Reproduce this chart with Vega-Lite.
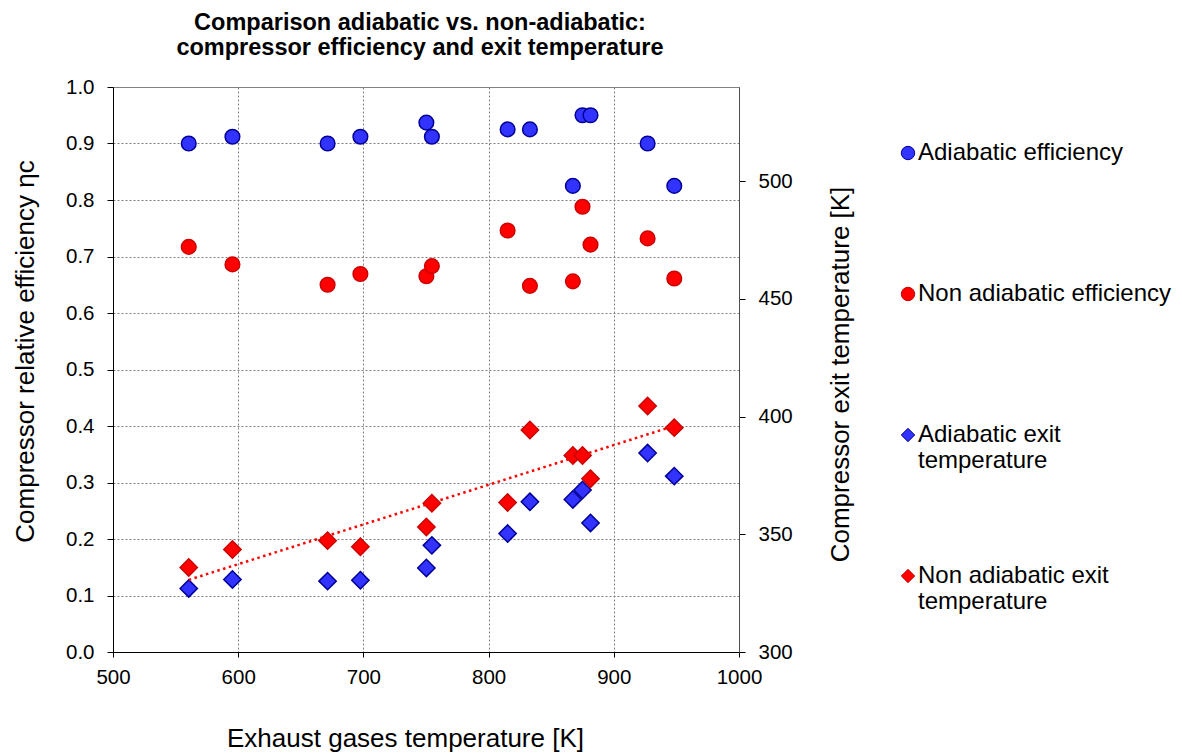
{
  "$schema": "https://vega.github.io/schema/vega-lite/v6.json",
  "width": 626,
  "height": 565,
  "autosize": {"type": "none"},
  "padding": {"left": 113, "top": 87, "right": 443, "bottom": 101},
  "background": "white",
  "config": {
    "font": "Liberation Sans",
    "view": {"stroke": "#808080", "strokeWidth": 1},
    "axis": {
      "labelColor": "black", "titleColor": "black", "labelFontSize": 20.5, "titleFontSize": 26,
      "titleFontWeight": "normal", "domainColor": "black", "tickColor": "black", "tickSize": 6,
      "gridColor": "#808080", "gridDash": [2, 2], "gridWidth": 1, "labelFlush": false
    },
    "legend": {
      "title": null, "orient": "none", "legendX": 783, "legendY": 54,
      "labelFontSize": 24, "labelColor": "black", "symbolSize": 180, "symbolStrokeWidth": 1,
      "rowPadding": 91, "gridAlign": "all", "labelOffset": -2, "labelLimit": 400
    }
  },
  "title": {
    "text": ["Comparison adiabatic vs. non-adiabatic:", "compressor efficiency and exit temperature"],
    "fontSize": 23.5, "fontWeight": "bold", "color": "black", "anchor": "middle", "dx": -6,
    "lineHeight": 25, "offset": 18
  },
  "data": {
    "values": [
      {"T": 560.5, "series": "Adiabatic efficiency", "value": 0.900},
      {"T": 595.4, "series": "Adiabatic efficiency", "value": 0.912},
      {"T": 671.4, "series": "Adiabatic efficiency", "value": 0.900},
      {"T": 697.6, "series": "Adiabatic efficiency", "value": 0.912},
      {"T": 750.3, "series": "Adiabatic efficiency", "value": 0.937},
      {"T": 754.7, "series": "Adiabatic efficiency", "value": 0.912},
      {"T": 815.2, "series": "Adiabatic efficiency", "value": 0.925},
      {"T": 833.0, "series": "Adiabatic efficiency", "value": 0.925},
      {"T": 867.3, "series": "Adiabatic efficiency", "value": 0.825},
      {"T": 875.0, "series": "Adiabatic efficiency", "value": 0.950},
      {"T": 881.4, "series": "Adiabatic efficiency", "value": 0.950},
      {"T": 927.0, "series": "Adiabatic efficiency", "value": 0.900},
      {"T": 948.3, "series": "Adiabatic efficiency", "value": 0.825},
      {"T": 560.5, "series": "Non adiabatic efficiency", "value": 0.717},
      {"T": 595.4, "series": "Non adiabatic efficiency", "value": 0.686},
      {"T": 671.4, "series": "Non adiabatic efficiency", "value": 0.650},
      {"T": 697.6, "series": "Non adiabatic efficiency", "value": 0.669},
      {"T": 750.3, "series": "Non adiabatic efficiency", "value": 0.665},
      {"T": 754.7, "series": "Non adiabatic efficiency", "value": 0.683},
      {"T": 815.2, "series": "Non adiabatic efficiency", "value": 0.746},
      {"T": 833.0, "series": "Non adiabatic efficiency", "value": 0.648},
      {"T": 867.3, "series": "Non adiabatic efficiency", "value": 0.656},
      {"T": 875.0, "series": "Non adiabatic efficiency", "value": 0.788},
      {"T": 881.4, "series": "Non adiabatic efficiency", "value": 0.721},
      {"T": 927.0, "series": "Non adiabatic efficiency", "value": 0.732},
      {"T": 948.3, "series": "Non adiabatic efficiency", "value": 0.661},
      {"T": 560.5, "series": "Adiabatic exit temperature", "value": 327.0},
      {"T": 595.4, "series": "Adiabatic exit temperature", "value": 330.8},
      {"T": 671.4, "series": "Adiabatic exit temperature", "value": 330.1},
      {"T": 697.6, "series": "Adiabatic exit temperature", "value": 330.5},
      {"T": 750.3, "series": "Adiabatic exit temperature", "value": 335.7},
      {"T": 754.7, "series": "Adiabatic exit temperature", "value": 345.3},
      {"T": 815.2, "series": "Adiabatic exit temperature", "value": 350.3},
      {"T": 833.0, "series": "Adiabatic exit temperature", "value": 363.8},
      {"T": 867.3, "series": "Adiabatic exit temperature", "value": 364.8},
      {"T": 875.0, "series": "Adiabatic exit temperature", "value": 368.8},
      {"T": 881.4, "series": "Adiabatic exit temperature", "value": 354.8},
      {"T": 927.0, "series": "Adiabatic exit temperature", "value": 384.5},
      {"T": 948.3, "series": "Adiabatic exit temperature", "value": 374.7},
      {"T": 560.5, "series": "Non adiabatic exit temperature", "value": 335.9},
      {"T": 595.4, "series": "Non adiabatic exit temperature", "value": 343.5},
      {"T": 671.4, "series": "Non adiabatic exit temperature", "value": 347.3},
      {"T": 697.6, "series": "Non adiabatic exit temperature", "value": 344.7},
      {"T": 750.3, "series": "Non adiabatic exit temperature", "value": 353.1},
      {"T": 754.7, "series": "Non adiabatic exit temperature", "value": 363.2},
      {"T": 815.2, "series": "Non adiabatic exit temperature", "value": 363.5},
      {"T": 833.0, "series": "Non adiabatic exit temperature", "value": 394.3},
      {"T": 867.3, "series": "Non adiabatic exit temperature", "value": 383.5},
      {"T": 875.0, "series": "Non adiabatic exit temperature", "value": 383.5},
      {"T": 881.4, "series": "Non adiabatic exit temperature", "value": 373.6},
      {"T": 927.0, "series": "Non adiabatic exit temperature", "value": 404.5},
      {"T": 948.3, "series": "Non adiabatic exit temperature", "value": 395.3}
    ]
  },
  "encoding": {
    "x": {
      "field": "T", "type": "quantitative",
      "scale": {"domain": [500, 1000], "nice": false, "zero": false},
      "axis": {
        "values": [500, 600, 700, 800, 900, 1000], "format": "d", "grid": true, "tickSize": 5, "labelPadding": 10,
        "title": "Exhaust gases temperature [K]", "titleX": 292, "titleY": 86,
        "titleBaseline": "middle", "titleAnchor": "middle", "titleAlign": "center"
      }
    }
  },
  "layer": [
    {
      "transform": [{"filter": "datum.series == 'Adiabatic efficiency' || datum.series == 'Non adiabatic efficiency'"}],
      "mark": {"type": "point", "filled": true, "size": 214, "strokeWidth": 1.5, "opacity": 1, "fillOpacity": 1},
      "encoding": {
        "y": {
          "field": "value", "type": "quantitative",
          "scale": {"domain": [0, 1], "nice": false},
          "axis": {
            "values": [0, 0.1, 0.2, 0.3, 0.4, 0.5, 0.6, 0.7, 0.8, 0.9, 1.0], "format": ".1f",
            "grid": true, "labelPadding": 13,
            "title": "Compressor relative efficiency  ηc", "titleAngle": -90,
            "titleX": -88, "titleY": 264, "titleBaseline": "middle", "titleAlign": "center"
          }
        },
        "color": {
          "field": "series", "type": "nominal",
          "scale": {"domain": ["Adiabatic efficiency", "Non adiabatic efficiency", "Adiabatic exit temperature", "Non adiabatic exit temperature"], "range": ["#3333FF", "#FF0000", "#3333FF", "#FF0000"]},
          "legend": {"labelExpr": "datum.value == 'Adiabatic exit temperature' ? ['Adiabatic exit', 'temperature'] : datum.value == 'Non adiabatic exit temperature' ? ['Non adiabatic exit', 'temperature'] : datum.label"}
        },
        "stroke": {
          "field": "series", "type": "nominal",
          "scale": {"domain": ["Adiabatic efficiency", "Non adiabatic efficiency", "Adiabatic exit temperature", "Non adiabatic exit temperature"], "range": ["#000099", "#CC0000", "#000099", "#CC0000"]}
        },
        "shape": {
          "field": "series", "type": "nominal",
          "scale": {"domain": ["Adiabatic efficiency", "Non adiabatic efficiency", "Adiabatic exit temperature", "Non adiabatic exit temperature"], "range": ["circle", "circle", "diamond", "diamond"]}
        }
      }
    },
    {
      "encoding": {
        "y": {
          "field": "value", "type": "quantitative",
          "scale": {"domain": [300, 540], "nice": false, "zero": false},
          "axis": {
            "orient": "right", "values": [300, 350, 400, 450, 500], "grid": false, "labelPadding": 13,
            "domainColor": "#505050",
            "title": "Compressor exit temperature [K]", "titleAngle": -90,
            "titleX": 101, "titleY": 287, "titleBaseline": "middle", "titleAlign": "center"
          }
        }
      },
      "layer": [
        {
          "transform": [{"filter": "datum.series == 'Adiabatic exit temperature' || datum.series == 'Non adiabatic exit temperature'"}],
          "mark": {"type": "point", "filled": true, "size": 300, "strokeWidth": 1.5, "opacity": 1, "fillOpacity": 1},
          "encoding": {
            "color": {
              "field": "series", "type": "nominal",
              "scale": {"domain": ["Adiabatic efficiency", "Non adiabatic efficiency", "Adiabatic exit temperature", "Non adiabatic exit temperature"], "range": ["#3333FF", "#FF0000", "#3333FF", "#FF0000"]},
              "legend": {"labelExpr": "datum.value == 'Adiabatic exit temperature' ? ['Adiabatic exit', 'temperature'] : datum.value == 'Non adiabatic exit temperature' ? ['Non adiabatic exit', 'temperature'] : datum.label"}
            },
            "stroke": {
              "field": "series", "type": "nominal",
              "scale": {"domain": ["Adiabatic efficiency", "Non adiabatic efficiency", "Adiabatic exit temperature", "Non adiabatic exit temperature"], "range": ["#000099", "#CC0000", "#000099", "#CC0000"]}
            },
            "shape": {
              "field": "series", "type": "nominal",
              "scale": {"domain": ["Adiabatic efficiency", "Non adiabatic efficiency", "Adiabatic exit temperature", "Non adiabatic exit temperature"], "range": ["circle", "circle", "diamond", "diamond"]}
            }
          }
        },
        {
          "transform": [
            {"filter": "datum.series == 'Non adiabatic exit temperature'"},
            {"regression": "value", "on": "T"}
          ],
          "mark": {"type": "line", "color": "#FF0000", "strokeWidth": 2.5, "strokeDash": [2.5, 3.5]},
          "encoding": {"y": {"field": "value", "type": "quantitative"}}
        }
      ]
    }
  ],
  "resolve": {"scale": {"y": "independent"}}
}
